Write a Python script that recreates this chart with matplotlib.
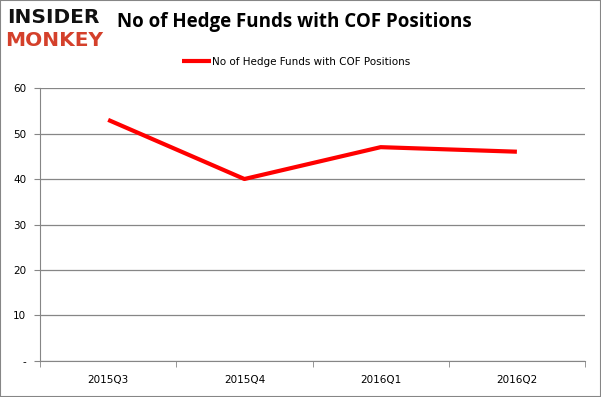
import matplotlib.pyplot as plt
from matplotlib.patches import Rectangle

quarters = ["2015Q3", "2015Q4", "2016Q1", "2016Q2"]
hedge_funds = [53, 40, 47, 46]
y_ticks = [0, 10, 20, 30, 40, 50, 60]
y_labels = ["-", "10", "20", "30", "40", "50", "60"]

fig = plt.figure(figsize=(6.01, 3.97), dpi=100)
ax = fig.add_axes([0.0666, 0.0907, 0.9068, 0.6876])

x = range(len(quarters))
ax.plot(x, hedge_funds, color="#ff0000", linewidth=3, solid_capstyle="butt",
        label="No of Hedge Funds with COF Positions")

ax.set_xlim(-0.5, len(quarters) - 0.5)
ax.set_ylim(0, 60)
ax.set_yticks(y_ticks)
ax.set_yticklabels(y_labels)
ax.set_xticks(list(x))
ax.set_xticklabels(quarters)
ax.set_xticks([i - 0.5 for i in range(len(quarters) + 1)], minor=True)
ax.tick_params(axis="x", which="major", length=0, pad=10, labelsize=7.5)
ax.tick_params(axis="x", which="minor", length=4, color="#868686", direction="out")
ax.tick_params(axis="y", length=4, color="#868686", labelsize=7.5, pad=6)
ax.grid(axis="y", color="#868686", linewidth=0.9)
ax.set_axisbelow(True)
for s in ["top", "right"]:
    ax.spines[s].set_visible(False)
for s in ["left", "bottom"]:
    ax.spines[s].set_color("#868686")

fig.text(0.49, 0.945, "No of Hedge Funds with COF Positions", ha="center", va="center",
         fontsize=13.5, fontweight="bold", family="Open Sans")
fig.legend(loc="center", bbox_to_anchor=(0.493, 0.845), frameon=False, fontsize=7.5,
           handlelength=2.8, handletextpad=0.1)

# logo
fig.text(0.012, 0.955, "INSIDER", ha="left", va="center", fontsize=14.5,
         fontweight="heavy", family="DejaVu Sans", color="#111111")
fig.text(0.008, 0.898, "MONKEY", ha="left", va="center", fontsize=14.5,
         fontweight="heavy", family="DejaVu Sans", color="#d4402b")

fig.patches.append(Rectangle((0, 0), 1, 1, transform=fig.transFigure, fill=False,
                             edgecolor="#868686", linewidth=1.5))

fig.savefig("out.png", dpi=100)
